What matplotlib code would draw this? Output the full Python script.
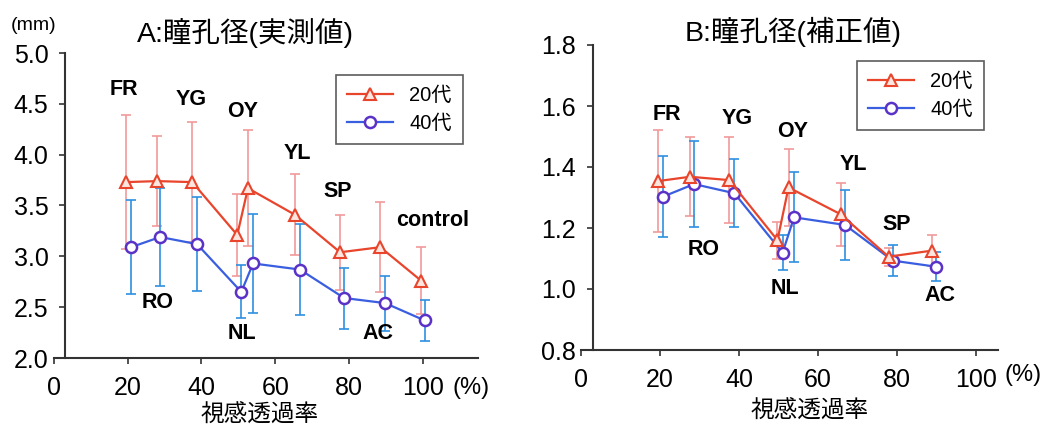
import matplotlib
matplotlib.use("Agg")
import matplotlib.pyplot as plt

plt.rcParams['font.family'] = ['Liberation Sans', 'Noto Sans CJK JP', 'DejaVu Sans']

# panel A: measured pupil diameter (mm)
a_names = ["FR", "RO", "YG", "NL", "OY", "YL", "SP", "AC", "control"]
a_x20 = [19.6, 28.0, 37.5, 49.7, 52.6, 65.3, 77.6, 88.5, 99.6]
a_y20 = [3.73, 3.74, 3.73, 3.21, 3.67, 3.41, 3.04, 3.09, 2.76]
a_e20 = [0.66, 0.44, 0.59, 0.40, 0.57, 0.40, 0.37, 0.44, 0.33]
a_x40 = [20.9, 28.8, 38.8, 50.8, 54.0, 66.7, 78.7, 89.8, 100.5]
a_y40 = [3.09, 3.19, 3.12, 2.65, 2.93, 2.87, 2.59, 2.54, 2.37]
a_e40 = [0.46, 0.48, 0.46, 0.26, 0.49, 0.45, 0.30, 0.27, 0.20]

# panel B: corrected pupil diameter
b_names = ["FR", "RO", "YG", "NL", "OY", "YL", "SP", "AC"]
b_x20 = [19.6, 27.6, 37.5, 49.7, 52.5, 65.7, 77.8, 88.9]
b_y20 = [1.354, 1.368, 1.357, 1.160, 1.333, 1.245, 1.106, 1.126]
b_e20 = [0.167, 0.13, 0.14, 0.06, 0.126, 0.104, 0.03, 0.05]
b_x40 = [20.8, 28.6, 38.8, 51.0, 53.9, 66.8, 78.9, 89.9]
b_y40 = [1.303, 1.344, 1.314, 1.119, 1.235, 1.210, 1.093, 1.073]
b_e40 = [0.133, 0.142, 0.112, 0.058, 0.148, 0.115, 0.05, 0.047]

# label positions (x, y) in data units
a_lab_pos = [(18.9, 4.64), (28.1, 2.55), (37.2, 4.54), (51.1, 2.24), (51.2, 4.42),
             (65.9, 4.01), (76.9, 3.64), (87.8, 2.24), (102.6, 3.35)]
b_lab_pos = [(21.7, 1.571), (31.0, 1.128), (39.4, 1.56), (51.6, 1.002), (53.6, 1.518),
             (68.9, 1.407), (79.9, 1.21), (90.9, 0.98)]

red = '#e8452c'
blue = '#3a5ee0'
purple = '#5a32c8'

W, H = 1051, 428
fig = plt.figure(figsize=(W / 100, H / 100), dpi=100)
axA = fig.add_axes([54/W, 70/H, 424/W, 305/H])
axB = fig.add_axes([581/W, 78/H, 417/W, 305/H])


def draw(ax, x20, y20, e20, x40, y40, e40, names, pos, ylim, yticks, xmax, leg_anchor):
    ax.errorbar(x20, y20, yerr=e20, fmt='none', ecolor='#f09a9a', elinewidth=1.2,
                capsize=3.5, capthick=1.2, zorder=2)
    ax.errorbar(x40, y40, yerr=e40, fmt='none', ecolor='#2f8fe0', elinewidth=1.2,
                capsize=3.5, capthick=1.2, zorder=2)
    ax.plot(x20, y20, '-^', color=red, lw=1.6, ms=9, mfc='#fde6df', mec=red, mew=1.5,
            label='20代', zorder=4)
    ax.plot(x40, y40, '-o', color=blue, lw=1.6, ms=8, mfc='white', mec=purple, mew=1.8,
            label='40代', zorder=3)
    for name, (tx, ty) in zip(names, pos):
        ax.text(tx, ty, name, ha='center', va='center', fontsize=15.5, fontweight='bold')
    ax.set_xlim(0, xmax)
    ax.set_ylim(*ylim)
    ax.set_xticks([0, 20, 40, 60, 80, 100])
    ax.set_yticks(yticks)
    ax.set_yticklabels(['%.1f' % v for v in yticks])
    ax.spines['top'].set_visible(False)
    ax.spines['right'].set_visible(False)
    ax.spines['left'].set_position(('data', 3))
    for s in ['left', 'bottom']:
        ax.spines[s].set_color('#333333')
        ax.spines[s].set_linewidth(1.5)
    ax.tick_params(labelsize=18, direction='out', length=4, width=1.2, colors='#333333',
                   labelcolor='black')
    ax.tick_params(axis='x', pad=9)
    ax.tick_params(axis='y', pad=8)
    leg = ax.legend(loc='upper right', bbox_to_anchor=leg_anchor, borderaxespad=0,
                    fontsize=14.5, frameon=True, fancybox=False, edgecolor='#333333',
                    handlelength=2.3, borderpad=0.55, labelspacing=0.45)
    leg.get_frame().set_linewidth(1.2)


draw(axA, a_x20, a_y20, a_e20, a_x40, a_y40, a_e40, a_names, a_lab_pos,
     (2.0, 5.0), [2.0, 2.5, 3.0, 3.5, 4.0, 4.5, 5.0], 115, (1 - 15/424, 1 - 22/305))
draw(axB, b_x20, b_y20, b_e20, b_x40, b_y40, b_e40, b_names, b_lab_pos,
     (0.8, 1.8), [0.8, 1.0, 1.2, 1.4, 1.6, 1.8], 105.5, (1 - 14/417, 1 - 16/305))

fig.text(245/W, 1 - 33/H, 'A:瞳孔径(実測値)', fontsize=20.5, ha='center', va='center')
fig.text(793/W, 1 - 32/H, 'B:瞳孔径(補正値)', fontsize=20.5, ha='center', va='center')
fig.text(260/W, 1 - 416/H, '視感透過率', fontsize=17, ha='center', va='center')
fig.text(810/W, 1 - 412/H, '視感透過率', fontsize=17, ha='center', va='center')
fig.text(34/W, 1 - 25/H, '(mm)', fontsize=14, ha='center', va='center')
fig.text(471/W, 1 - 388/H, '(%)', fontsize=17, ha='center', va='center')
fig.text(1023/W, 1 - 375/H, '(%)', fontsize=17, ha='center', va='center')

fig.savefig('out.png', dpi=100)
